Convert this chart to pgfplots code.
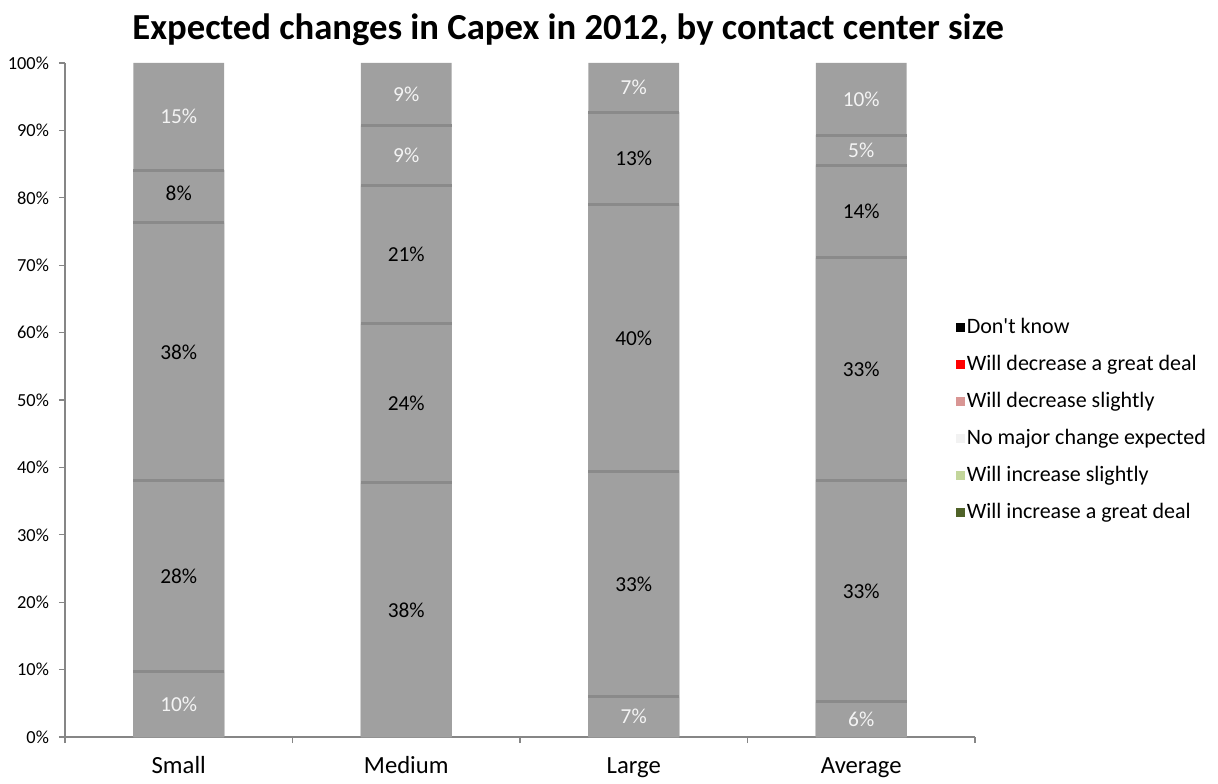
\documentclass[border=0pt]{standalone}
\usepackage{pgfplots}
\pgfplotsset{compat=1.18}
\usepackage{pgfplotstable}
\usepackage{fontspec}
\setmainfont{Carlito}[Ligatures=TeXOff]
\definecolor{bargray}{HTML}{A0A0A0}
\definecolor{sepgray}{HTML}{8A8A8A}
\definecolor{axgray}{HTML}{868686}
\definecolor{dkgreen}{HTML}{4F6228}
\definecolor{ltgreen}{HTML}{C3D69B}
\definecolor{nochange}{HTML}{F2F2F2}
\definecolor{pinkdec}{HTML}{D99694}
\definecolor{labwhite}{HTML}{F4F4F4}

% cumulative tops of each series (x: 0 Small, 1 Medium, 2 Large, 3 Average)
\pgfplotstableread{
x incgreat incslight nochange decslight decgreat dontknow
0 9.7 38.0 76.3 84.1 84.1 100
1 0.0 37.7 61.3 81.8 90.7 100
2 6.0 39.4 79.0 92.7 92.7 100
3 5.2 38.1 71.1 84.8 89.3 100
}\cumdata

% segment boundaries
\pgfplotstableread{
x y
0 9.7
0 38.0
0 76.3
0 84.1
1 37.7
1 61.3
1 81.8
1 90.7
2 6.0
2 39.4
2 79.0
2 92.7
3 5.2
3 38.1
3 71.1
3 84.8
3 89.3
}\seps

% labels set in white
\pgfplotstableread{
x y lab
0 4.85 10
0 92.05 15
1 86.25 9
1 95.35 9
2 3.0 7
2 96.35 7
3 2.6 6
3 87.05 5
3 94.65 10
}\whitelabs

% labels set in black
\pgfplotstableread{
x y lab
0 23.85 28
0 57.15 38
0 80.6 8
1 18.85 38
1 49.5 24
1 71.55 21
2 22.7 33
2 59.2 40
2 85.85 13
3 21.65 33
3 54.6 33
3 77.95 14
}\blacklabs

\begin{document}
\begin{tikzpicture}
\begin{axis}[
  scale only axis,
  width=682.5pt, height=505.5pt,
  xmin=-0.5, xmax=3.5, ymin=0, ymax=100,
  axis lines=left,
  axis line style={draw=axgray, line width=0.8pt, -},
  ytick={0,10,...,100},
  yticklabels={0\%,10\%,20\%,30\%,40\%,50\%,60\%,70\%,80\%,90\%,100\%},
  xtick={-0.5,0.5,1.5,2.5,3.5},
  x tick label as interval,
  xticklabels={Small,Medium,Large,Average},
  tick style={draw=axgray, line width=0.8pt},
  tick align=outside,
  major tick length=4.5pt,
  yticklabel style={font=\fontsize{13.8}{16}\selectfont, xshift=-4pt},
  xticklabel style={font=\fontsize{18.5}{22}\selectfont, text height=13.5pt, text depth=4pt, yshift=-6pt},
  clip=false,
  legend style={at={(0.974,0.471)}, anchor=west, draw=none, fill=none,
    font=\fontsize{16.5}{19}\selectfont, row sep=10.8pt},
  legend cell align=left,
]
\addplot[ybar, bar width=68pt, bar shift=0pt, fill=bargray, draw=none, forget plot] table[x=x, y=dontknow] {\cumdata};
\addplot[ybar, bar width=68pt, bar shift=0pt, fill=bargray, draw=none, forget plot] table[x=x, y=decgreat] {\cumdata};
\addplot[ybar, bar width=68pt, bar shift=0pt, fill=bargray, draw=none, forget plot] table[x=x, y=decslight] {\cumdata};
\addplot[ybar, bar width=68pt, bar shift=0pt, fill=bargray, draw=none, forget plot] table[x=x, y=nochange] {\cumdata};
\addplot[ybar, bar width=68pt, bar shift=0pt, fill=bargray, draw=none, forget plot] table[x=x, y=incslight] {\cumdata};
\addplot[ybar, bar width=68pt, bar shift=0pt, fill=bargray, draw=none, forget plot] table[x=x, y=incgreat] {\cumdata};

\addplot[only marks, mark=-, mark size=34pt, mark options={draw=sepgray, line width=2.2pt}, forget plot] table[x=x, y=y] {\seps};

\addplot[draw=none, forget plot, point meta=explicit symbolic,
  nodes near coords={\pgfplotspointmeta\%},
  every node near coord/.append style={anchor=center, text=labwhite, font=\fontsize{16}{19}\selectfont}]
  table[x=x, y=y, meta=lab] {\whitelabs};
\addplot[draw=none, forget plot, point meta=explicit symbolic,
  nodes near coords={\pgfplotspointmeta\%},
  every node near coord/.append style={anchor=center, text=black, font=\fontsize{16}{19}\selectfont}]
  table[x=x, y=y, meta=lab] {\blacklabs};

\addlegendimage{legend image code/.code={\fill[black] (0pt,-3pt) rectangle (6pt,3pt);}}
\addlegendentry{Don't know}
\addlegendimage{legend image code/.code={\fill[red] (0pt,-3pt) rectangle (6pt,3pt);}}
\addlegendentry{Will decrease a great deal}
\addlegendimage{legend image code/.code={\fill[pinkdec] (0pt,-3pt) rectangle (6pt,3pt);}}
\addlegendentry{Will decrease slightly}
\addlegendimage{legend image code/.code={\fill[nochange] (0pt,-3pt) rectangle (6pt,3pt);}}
\addlegendentry{No major change expected}
\addlegendimage{legend image code/.code={\fill[ltgreen] (0pt,-3pt) rectangle (6pt,3pt);}}
\addlegendentry{Will increase slightly}
\addlegendimage{legend image code/.code={\fill[dkgreen] (0pt,-3pt) rectangle (6pt,3pt);}}
\addlegendentry{Will increase a great deal}

\node[font=\bfseries\fontsize{27.5}{32}\selectfont, anchor=center] at (rel axis cs:0.553,1.050) {Expected changes in Capex in 2012, by contact center size};
\coordinate (o) at (rel axis cs:0,0);
\end{axis}
\pgfresetboundingbox
\path[use as bounding box] ([shift={(-48.75pt,-34.5pt)}]o) rectangle ++(913.5pt,587.25pt);
\end{tikzpicture}
\end{document}
